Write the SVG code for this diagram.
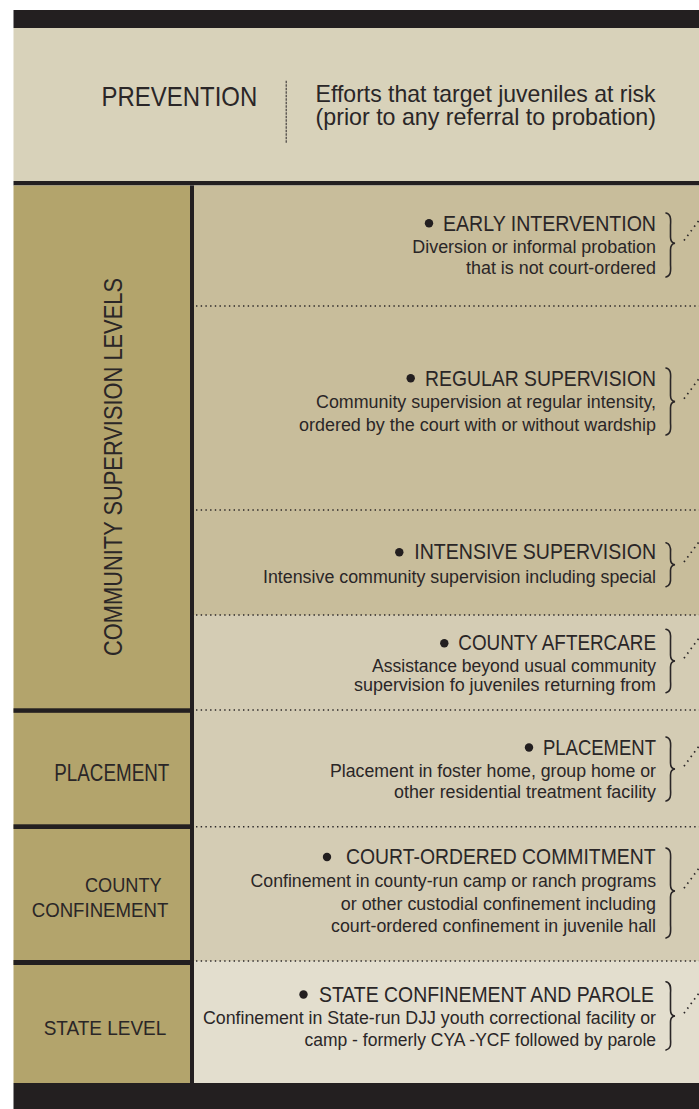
<svg xmlns="http://www.w3.org/2000/svg" width="699" height="1109" viewBox="0 0 699 1109">
  <defs>
    <style>
      .t { font-family: "Liberation Sans", Arial, sans-serif; fill: #2a2627; }
      .title { font-size: 21.5px; }
      .sub { font-size: 18.3px; }
      .lbl { font-size: 21px; }
      .sep { stroke: #2a2627; stroke-width: 1.6; stroke-dasharray: 1.4 3.3; fill: none; }
      .brace { stroke: #2a2627; stroke-width: 1.6; fill: none; stroke-linecap: round; }
      .diag { stroke: #2a2627; stroke-width: 1.7; stroke-dasharray: 1.5 4.2; fill: none; }
      .bar { fill: #231f20; }
      .dot { fill: #231f20; }
    </style>
  </defs>
  <rect x="0" y="0" width="699" height="1109" fill="#ffffff"/>

  <!-- backgrounds -->
  <rect x="13.5" y="10" width="685.5" height="18" class="bar"/>
  <rect x="13.5" y="28" width="685.5" height="153" fill="#d8d2ba"/>
  <rect x="13.5" y="181" width="685.5" height="4.5" class="bar"/>
  <rect x="13.5" y="185.5" width="176.5" height="897.5" fill="#b3a46c"/>
  <rect x="194" y="185.5" width="505" height="429.5" fill="#c8bd9b"/>
  <rect x="194" y="615" width="505" height="346" fill="#d4ccb4"/>
  <rect x="194" y="961" width="505" height="122" fill="#e3dece"/>
  <rect x="190" y="185.5" width="4" height="897.5" class="bar"/>
  <rect x="13.5" y="708.3" width="176.5" height="4.5" class="bar"/>
  <rect x="13.5" y="824.3" width="176.5" height="4.7" class="bar"/>
  <rect x="13.5" y="960" width="176.5" height="5" class="bar"/>
  <rect x="13.5" y="1083" width="685.5" height="26" class="bar"/>

  <!-- separators -->
  <g id="separators">
    <line class="sep" x1="196" y1="306" x2="699" y2="306"/>
    <line class="sep" x1="196" y1="510" x2="699" y2="510"/>
    <line class="sep" x1="196" y1="615" x2="699" y2="615"/>
    <line class="sep" x1="196" y1="710" x2="699" y2="710"/>
    <line class="sep" x1="196" y1="826.7" x2="699" y2="826.7"/>
    <line class="sep" x1="196" y1="961" x2="699" y2="961"/>
  </g>

  <g id="prevention">
    <text class="t" x="101.6" y="106" font-size="28.5" textLength="155.6" lengthAdjust="spacingAndGlyphs">PREVENTION</text>
    <line x1="286.2" y1="80.7" x2="286.2" y2="142.7" stroke="#3a3636" stroke-width="1.1" stroke-dasharray="2.5 1"/>
    <text class="t" x="315.6" y="102" font-size="24" textLength="340" lengthAdjust="spacingAndGlyphs">Efforts that target juveniles at risk</text>
    <text class="t" x="315.6" y="125" font-size="24" textLength="340.4" lengthAdjust="spacingAndGlyphs">(prior to any referral to probation)</text>
  </g>

  <g id="label-community">
    <text class="t" transform="translate(121.7,656) rotate(-90)" x="0" y="0" font-size="26" textLength="378" lengthAdjust="spacingAndGlyphs">COMMUNITY SUPERVISION LEVELS</text>
  </g>
  <g id="label-placement">
    <text class="t" x="54.3" y="780.7" font-size="23" textLength="115" lengthAdjust="spacingAndGlyphs">PLACEMENT</text>
  </g>
  <g id="label-county">
    <text class="t lbl" x="85" y="891.7" textLength="76.7" lengthAdjust="spacingAndGlyphs">COUNTY</text>
    <text class="t lbl" x="31.7" y="916.7" textLength="136.6" lengthAdjust="spacingAndGlyphs">CONFINEMENT</text>
  </g>
  <g id="label-state">
    <text class="t lbl" x="43.7" y="1035" textLength="122.6" lengthAdjust="spacingAndGlyphs">STATE LEVEL</text>
  </g>

  <g id="early-intervention">
    <circle class="dot" cx="429" cy="223.3" r="4.2"/>
    <text class="t title" x="443" y="230.7" textLength="213" lengthAdjust="spacingAndGlyphs">EARLY INTERVENTION</text>
    <text class="t sub" x="412.3" y="253.3" textLength="243.7" lengthAdjust="spacingAndGlyphs">Diversion or informal probation</text>
    <text class="t sub" x="466" y="274.3" textLength="190" lengthAdjust="spacingAndGlyphs">that is not court-ordered</text>
  </g>

  <g id="regular-supervision">
    <circle class="dot" cx="410.7" cy="378.3" r="4.2"/>
    <text class="t title" x="425" y="385.7" textLength="231" lengthAdjust="spacingAndGlyphs">REGULAR SUPERVISION</text>
    <text class="t sub" x="316" y="408.3" textLength="340" lengthAdjust="spacingAndGlyphs">Community supervision at regular intensity,</text>
    <text class="t sub" x="299" y="430.7" textLength="357" lengthAdjust="spacingAndGlyphs">ordered by the court with or without wardship</text>
  </g>

  <g id="intensive-supervision">
    <circle class="dot" cx="399.3" cy="552.3" r="4.2"/>
    <text class="t title" x="414.3" y="559.3" textLength="241.7" lengthAdjust="spacingAndGlyphs">INTENSIVE SUPERVISION</text>
    <text class="t sub" x="263" y="583.3" textLength="393" lengthAdjust="spacingAndGlyphs">Intensive community supervision including special</text>
  </g>

  <g id="county-aftercare">
    <circle class="dot" cx="444.3" cy="643.3" r="4.2"/>
    <text class="t title" x="458.3" y="650" textLength="197.7" lengthAdjust="spacingAndGlyphs">COUNTY AFTERCARE</text>
    <text class="t sub" x="372" y="671.5" textLength="284" lengthAdjust="spacingAndGlyphs">Assistance beyond usual community</text>
    <text class="t sub" x="354" y="691" textLength="302" lengthAdjust="spacingAndGlyphs">supervision fo juveniles returning from</text>
  </g>

  <g id="placement">
    <circle class="dot" cx="529" cy="747.5" r="4.2"/>
    <text class="t title" x="543" y="755" textLength="113" lengthAdjust="spacingAndGlyphs">PLACEMENT</text>
    <text class="t sub" x="330" y="777" textLength="326" lengthAdjust="spacingAndGlyphs">Placement in foster home, group home or</text>
    <text class="t sub" x="394" y="798" textLength="262" lengthAdjust="spacingAndGlyphs">other residential treatment facility</text>
  </g>

  <g id="court-ordered-commitment">
    <circle class="dot" cx="327" cy="857" r="4.2"/>
    <text class="t title" x="346" y="864.3" textLength="309.5" lengthAdjust="spacingAndGlyphs">COURT-ORDERED COMMITMENT</text>
    <text class="t sub" x="250.5" y="887.3" textLength="405.5" lengthAdjust="spacingAndGlyphs">Confinement in county-run camp or ranch programs</text>
    <text class="t sub" x="340.8" y="910" textLength="315.2" lengthAdjust="spacingAndGlyphs">or other custodial confinement including</text>
    <text class="t sub" x="331" y="932.3" textLength="325" lengthAdjust="spacingAndGlyphs">court-ordered confinement in juvenile hall</text>
  </g>

  <g id="state-confinement">
    <circle class="dot" cx="303.5" cy="994.5" r="4.2"/>
    <text class="t title" x="319" y="1002.3" textLength="335" lengthAdjust="spacingAndGlyphs">STATE CONFINEMENT AND PAROLE</text>
    <text class="t sub" x="203" y="1024" textLength="453" lengthAdjust="spacingAndGlyphs">Confinement in State-run DJJ youth correctional facility or</text>
    <text class="t sub" x="304.5" y="1046" textLength="351.5" lengthAdjust="spacingAndGlyphs">camp - formerly CYA -YCF followed by parole</text>
  </g>

  <g id="connectors">
    <path class="brace" d="M666,213 C670.5,214 671,218 670.5,225 L670.5,237 C670.5,241 672,243 675,243.3 C672,243.6 670.5,246 670.5,250 L670.5,265 C671,272 670.5,276 666,277"/>
    <path class="diag" d="M684,240.5 L700,219"/>

    <path class="brace" d="M666,368 C670.5,369 671,373 670.5,380 L670.5,395.5 C670.5,399.5 672,401.3 675,401.6 C672,401.9 670.5,404 670.5,408 L670.5,423 C671,430 670.5,434 666,435"/>
    <path class="diag" d="M684,398.8 L700,377.3"/>

    <path class="brace" d="M666,542.7 C670.5,543.7 671,547.7 670.5,553 L670.5,559 C670.5,562.5 672,564.5 675,564.7 C672,565 670.5,567 670.5,570.5 L670.5,576.5 C671,582 670.5,585.7 666,586.7"/>
    <path class="diag" d="M684,562 L700,540.5"/>

    <path class="brace" d="M666,629.3 C670.5,630.3 671,634.3 670.5,641 L670.5,655 C670.5,659 672,660.8 675,661 C672,661.3 670.5,663 670.5,667 L670.5,681 C671,688 670.5,691.7 666,692.7"/>
    <path class="diag" d="M684,658.2 L700,636.7"/>

    <path class="brace" d="M666,737 C670.5,738 671,742 670.5,749 L670.5,763 C670.5,767 672,768.8 675,769 C672,769.3 670.5,771 670.5,775 L670.5,789 C671,796 670.5,800 666,801"/>
    <path class="diag" d="M684,766.2 L700,744.7"/>

    <path class="brace" d="M666,848 C670.5,849 671,853 670.5,861 L670.5,885 C670.5,889 672,890.8 675,891 C672,891.3 670.5,893 670.5,897 L670.5,925 C671,933 670.5,937 666,938"/>
    <path class="diag" d="M684,888.3 L700,866.8"/>

    <path class="brace" d="M666,981.7 C670.5,982.7 671,986.7 670.5,993 L670.5,1010 C670.5,1014 672,1015.8 675,1016 C672,1016.3 670.5,1018 670.5,1022 L670.5,1039 C671,1045.5 670.5,1049 666,1050"/>
    <path class="diag" d="M684,1013.2 L700,991.7"/>
  </g>
</svg>
